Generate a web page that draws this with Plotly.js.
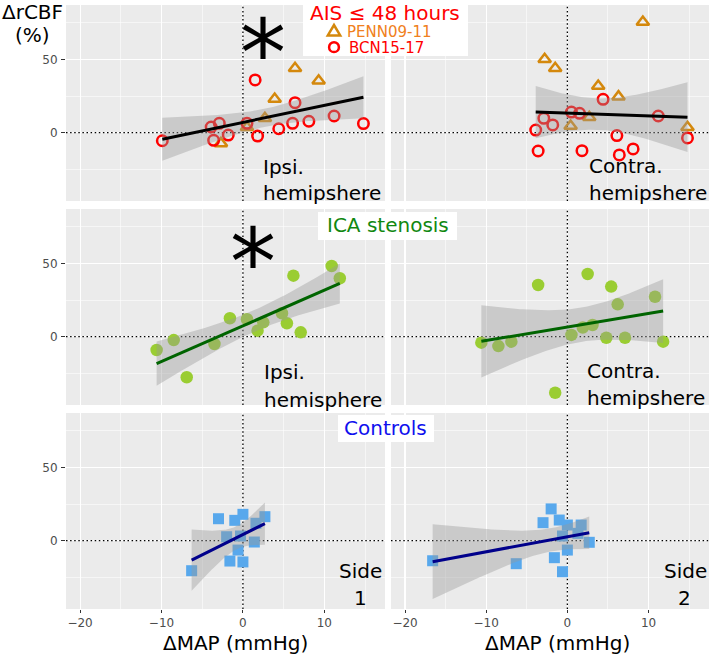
<!DOCTYPE html>
<html><head><meta charset="utf-8">
<script src="https://cdn.plot.ly/plotly-3.0.1.min.js"></script>
<style>html,body{margin:0;padding:0;background:#fff}</style>
</head><body><div id="chart" style="width:709px;height:655px"></div>
<script>
// ---------- data ----------
// Row 1: AIS <= 48 hours
const aisIpsiBcnX  = [-9.9, -3.9, -2.9, -3.6, -1.8, 0.5, 1.8, 1.5, 4.4, 6.1, 6.4, 8.1, 11.2, 14.8];
const aisIpsiBcnY  = [-5.5, 3.9, 6.4, -5.2, -1.6, 6.4, -2.3, 36.0, 2.7, 6.4, 20.5, 7.8, 11.4, 6.2];
const aisIpsiPennX = [-2.7, 0.5, 2.7, 3.9, 6.4, 9.3];
const aisIpsiPennY = [-7.3, 3.7, 9.8, 23.0, 44.0, 35.5];
const aisContraBcnX  = [-3.9, -2.9, -1.8, -3.6, 0.5, 1.5, 1.8, 4.4, 6.1, 6.4, 8.1, 11.2, 14.8];
const aisContraBcnY  = [1.8, 9.8, 5.3, -12.5, 14.1, 13.2, -12.3, 22.8, -2.0, -15.2, -11.1, 11.4, -3.6];
const aisContraPennX = [-2.8, -1.5, 3.8, 6.3, 2.7, 0.4, 9.3, 14.8];
const aisContraPennY = [50.1, 44.0, 31.9, 24.6, 10.5, 4.6, 75.6, 3.7];
// Row 2: ICA stenosis
const icaIpsiX   = [-10.6, -8.5, -6.9, -3.5, -1.6, 0.5, 1.8, 2.5, 4.8, 5.4, 6.2, 7.1, 10.9, 11.9];
const icaIpsiY   = [-9.1, -2.3, -27.7, -5.0, 12.6, 11.9, 4.1, 9.8, 16.0, 9.2, 41.7, 3.0, 48.3, 39.9];
const icaContraX = [-10.6, -8.5, -6.9, -3.6, -1.5, 0.5, 1.9, 3.1, 2.5, 4.8, 5.4, 6.2, 7.1, 10.8, 11.8];
const icaContraY = [-4.1, -6.4, -3.4, 35.3, -38.3, 1.2, 6.2, 8.0, 42.8, -0.7, 34.2, 22.1, -0.7, 27.3, -3.4];
// Row 3: Controls
const ctrlSide1X = [-6.3, -3.0, -1.0, 0.0, 1.6, 2.7, -2.0, -0.3, -0.6, -1.6, 0.0, 1.4];
const ctrlSide1Y = [-20.5, 15.0, 13.9, 18.0, 11.9, 16.4, 2.7, 3.2, -6.4, -13.9, -14.5, -0.9];
const ctrlSide2X = [-16.6, -6.3, -3.0, -2.0, -1.0, 0.0, 1.7, -0.6, 0.0, -1.6, -0.6, 2.7, 1.3];
const ctrlSide2Y = [-13.7, -15.7, 12.3, 21.7, 14.1, 10.7, 10.7, 3.2, -6.4, -11.6, -21.2, -1.1, 5.0];

const xTickVals = [-20, -10, 0, 10];
const yTickVals = [0, 50];

// ---------- geometry ----------
const L = 66, T = 5, PW = 643, PH = 604;
const fx = px => (px - L) / PW;
const fy = py => (T + PH - py) / PH;
const colPx = [[66, 385], [391, 709]];
const rowPx = [[5, 201], [209, 405], [413, 609]];
const XR = [-21.73, 17.45], YR = [-46.65, 87.2];
const FONT = 'DejaVu Sans';

// 95% t quantiles (df -> t)
const T975 = {8:2.306,9:2.262,10:2.228,11:2.201,12:2.179,13:2.160,14:2.145,15:2.131,16:2.120,17:2.110,18:2.101,19:2.093,20:2.086,21:2.080,22:2.074,23:2.069,24:2.064};

function lmBand(xs, ys) {
  const n = xs.length;
  const mx = xs.reduce((a, b) => a + b, 0) / n, my = ys.reduce((a, b) => a + b, 0) / n;
  let sxx = 0, sxy = 0;
  for (let i = 0; i < n; i++) { sxx += (xs[i] - mx) ** 2; sxy += (xs[i] - mx) * (ys[i] - my); }
  const b = sxy / sxx, a = my - b * mx;
  let sse = 0;
  for (let i = 0; i < n; i++) sse += (ys[i] - a - b * xs[i]) ** 2;
  const s = Math.sqrt(sse / (n - 2)), t = T975[n - 2] || 2.0;
  const lo = Math.min(...xs), hi = Math.max(...xs);
  const gx = [], fit = [], up = [], dn = [];
  const N = 80;
  for (let k = 0; k <= N; k++) {
    const x = lo + (hi - lo) * k / N;
    const yh = a + b * x;
    const se = s * Math.sqrt(1 / n + (x - mx) ** 2 / sxx);
    gx.push(x); fit.push(yh); up.push(yh + t * se); dn.push(yh - t * se);
  }
  return {gx, fit, up, dn};
}

const panels = [
  {groups: [{x: aisIpsiPennX, y: aisIpsiPennY, kind: 'tri'}, {x: aisIpsiBcnX, y: aisIpsiBcnY, kind: 'circ'}], line: '#000000'},
  {groups: [{x: aisContraPennX, y: aisContraPennY, kind: 'tri'}, {x: aisContraBcnX, y: aisContraBcnY, kind: 'circ'}], line: '#000000'},
  {groups: [{x: icaIpsiX, y: icaIpsiY, kind: 'green'}], line: '#006400'},
  {groups: [{x: icaContraX, y: icaContraY, kind: 'green'}], line: '#006400'},
  {groups: [{x: ctrlSide1X, y: ctrlSide1Y, kind: 'sq'}], line: '#00008B'},
  {groups: [{x: ctrlSide2X, y: ctrlSide2Y, kind: 'sq'}], line: '#00008B'},
];

const markerStyles = {
  tri:   {symbol: 'triangle-up-open', size: 11, color: '#D4880C', line: {width: 2.5, color: '#D4880C'}},
  circ:  {symbol: 'circle-open', size: 10.5, color: '#FF0000', line: {width: 2.5, color: '#FF0000'}},
  green: {symbol: 'circle', size: 12.5, color: '#9ACD32', line: {width: 0}},
  sq:    {symbol: 'square', size: 11, color: '#58A8EC', line: {width: 0}},
};

const traces = [];
const layout = {
  width: 709, height: 655,
  margin: {l: L, r: 0, t: T, b: 655 - T - PH},
  paper_bgcolor: '#FFFFFF', plot_bgcolor: '#EBEBEB',
  showlegend: false, hovermode: false,
  font: {family: FONT, color: '#000000'},
  shapes: [], annotations: []
};

const dotted = {color: '#000000', width: 1.3, dash: '1.5px,2.6px'};

panels.forEach((p, i) => {
  const r = Math.floor(i / 2), c = i % 2, n = i + 1;
  const xa = 'x' + (n === 1 ? '' : n), ya = 'y' + (n === 1 ? '' : n);
  // dotted reference lines at 0 (under the data)
  traces.push({type: 'scatter', mode: 'lines', x: [0, 0], y: YR, xaxis: xa, yaxis: ya, line: dotted, hoverinfo: 'skip'});
  traces.push({type: 'scatter', mode: 'lines', x: XR, y: [0, 0], xaxis: xa, yaxis: ya, line: dotted, hoverinfo: 'skip'});
  const allX = [], allY = [];
  p.groups.forEach(g => {
    allX.push(...g.x); allY.push(...g.y);
    traces.push({type: 'scatter', mode: 'markers', x: g.x, y: g.y, xaxis: xa, yaxis: ya,
      marker: markerStyles[g.kind], hoverinfo: 'skip'});
  });
  const band = lmBand(allX, allY);
  traces.push({type: 'scatter', mode: 'lines', xaxis: xa, yaxis: ya,
    x: band.gx.concat(band.gx.slice().reverse()),
    y: band.up.concat(band.dn.slice().reverse()),
    fill: 'toself', fillcolor: 'rgba(153,153,153,0.4)', line: {width: 0}, hoverinfo: 'skip'});
  traces.push({type: 'scatter', mode: 'lines', xaxis: xa, yaxis: ya, x: band.gx, y: band.fit,
    line: {color: p.line, width: 3}, hoverinfo: 'skip'});

  const bottom = r === 2, left = c === 0;
  layout['xaxis' + (n === 1 ? '' : n)] = {
    domain: [fx(colPx[c][0]), fx(colPx[c][1])], anchor: ya, range: XR,
    tickmode: 'array', tickvals: xTickVals,
    showticklabels: bottom, ticks: bottom ? 'outside' : '', ticklen: 3, tickwidth: 1, tickcolor: '#333333',
    tickfont: {family: FONT, size: 12, color: '#4D4D4D'},
    showgrid: true, gridcolor: '#FFFFFF', gridwidth: 1.1, zeroline: false, showline: false,
    minor: {dtick: 5, tick0: 0, showgrid: true, gridcolor: '#FFFFFF', gridwidth: 0.55, ticks: ''}
  };
  layout['yaxis' + (n === 1 ? '' : n)] = {
    domain: [fy(rowPx[r][1]), fy(rowPx[r][0])], anchor: xa, range: YR,
    tickmode: 'array', tickvals: yTickVals,
    showticklabels: left, ticks: left ? 'outside' : '', ticklen: 4, tickwidth: 1, tickcolor: '#333333',
    ticklabelstandoff: 1,
    tickfont: {family: FONT, size: 12, color: '#4D4D4D'},
    showgrid: true, gridcolor: '#FFFFFF', gridwidth: 1.1, zeroline: false, showline: false,
    minor: {dtick: 25, tick0: 0, showgrid: true, gridcolor: '#FFFFFF', gridwidth: 0.55, ticks: ''}
  };
});

// white label boxes
function box(x0, y0, x1, y1) {
  layout.shapes.push({type: 'rect', layer: 'above', xref: 'paper', yref: 'paper',
    x0: fx(x0), x1: fx(x1), y0: fy(y1), y1: fy(y0), fillcolor: '#FFFFFF', line: {width: 0}});
}
box(303, 0, 468, 56);
box(318, 212, 457, 240);
box(338, 415, 434, 442);

// legend glyphs inside AIS box
layout.shapes.push({type: 'path', layer: 'above', xref: 'paper', yref: 'paper',
  path: `M${fx(327.8)},${fy(35.4)} L${fx(340.2)},${fy(35.4)} L${fx(334)},${fy(25)} Z`,
  line: {color: '#D4880C', width: 2.5}, fillcolor: 'rgba(0,0,0,0)'});
layout.shapes.push({type: 'circle', layer: 'above', xref: 'paper', yref: 'paper',
  x0: fx(329.1), x1: fx(338.9), y0: fy(52.1), y1: fy(42.3),
  line: {color: '#FF0000', width: 2.5}, fillcolor: 'rgba(0,0,0,0)'});

function txt(text, px, py, size, color, xanchor) {
  layout.annotations.push({text, xref: 'paper', yref: 'paper', x: fx(px), y: fy(py),
    xanchor: xanchor || 'center', yanchor: 'middle', showarrow: false,
    font: {family: FONT, size, color}});
}
// titles
txt('ΔrCBF', 32, 11.7, 20, '#000000');
txt('(%)', 32, 35, 20, '#000000');
txt('ΔMAP (mmHg)', 236, 643, 20, '#000000');
txt('ΔMAP (mmHg)', 557.5, 643, 20, '#000000');
// group labels
txt('AIS ≤ 48 hours', 385, 13, 20, '#FF0000');
txt('PENN09-11', 345, 32, 15, '#F08020', 'left');
txt('BCN15-17', 347, 48, 15, '#FF0000', 'left');
txt('ICA stenosis', 387.5, 225, 20, '#118811');
txt('Controls', 385.5, 428, 20, '#1010EE');
// asterisks
txt('*', 262.7, 55, 92, '#000000');
txt('*', 252.7, 263, 92, '#000000');
// panel notes
txt('Ipsi.', 261, 166.7, 20, '#000000', 'left');
txt('hemipshere', 261, 192.6, 20, '#000000', 'left');
txt('Contra.', 586.7, 165.7, 20, '#000000', 'left');
txt('hemipshere', 586.7, 193, 20, '#000000', 'left');
txt('Ipsi.', 261.7, 371.7, 20, '#000000', 'left');
txt('hemisphere', 261.7, 400, 20, '#000000', 'left');
txt('Contra.', 585, 370.7, 20, '#000000', 'left');
txt('hemipshere', 585, 398, 20, '#000000', 'left');
txt('Side', 360, 570.7, 20, '#000000');
txt('1', 360, 597.7, 20, '#000000');
txt('Side', 685, 570.7, 20, '#000000');
txt('2', 684, 597.7, 20, '#000000');

Plotly.newPlot('chart', traces, layout, {staticPlot: true, displayModeBar: false});
</script>
</body></html>
